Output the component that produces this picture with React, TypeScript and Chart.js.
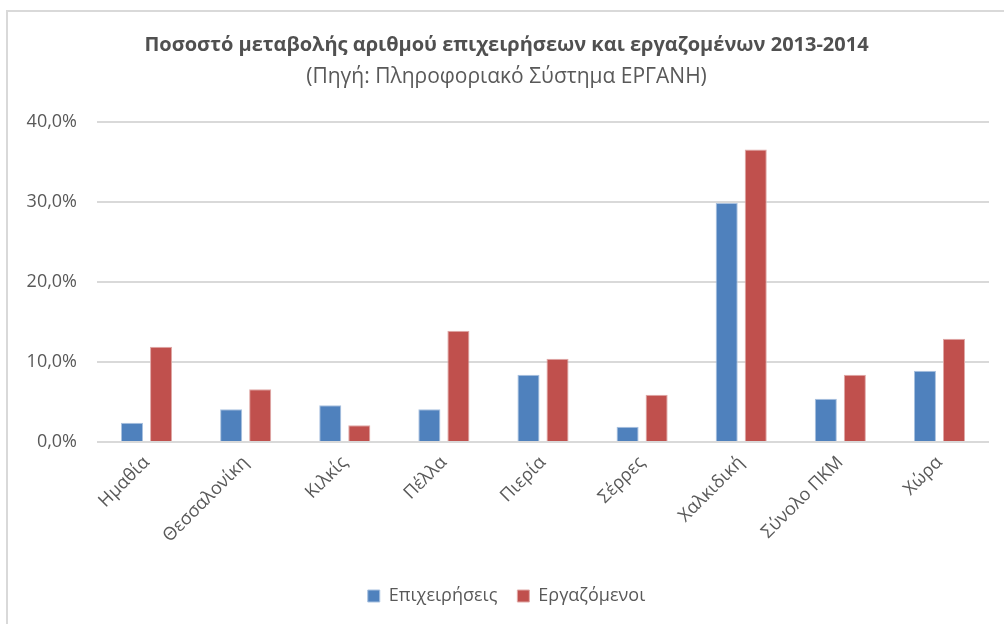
import React, { useEffect, useRef } from "react";
import { Chart, registerables } from "chart.js";

Chart.register(...registerables);

const categories = ["Ημαθία", "Θεσσαλονίκη", "Κιλκίς", "Πέλλα", "Πιερία", "Σέρρες", "Χαλκιδική", "Σύνολο ΠΚΜ", "Χώρα"];
const businesses = [2.4, 4.1, 4.6, 4.1, 8.4, 1.9, 29.9, 5.4, 8.9];
const employees = [11.9, 6.6, 2.1, 13.9, 10.4, 5.9, 36.6, 8.4, 12.9];
const yTicks = [0, 10, 20, 30, 40];
const titleText = "Ποσοστό μεταβολής αριθμού επιχειρήσεων και εργαζομένων 2013-2014";
const subtitleText = "(Πηγή: Πληροφοριακό Σύστημα ΕΡΓΑΝΗ)";
const seriesNames = ["Επιχειρήσεις", "Εργαζόμενοι"];

const FONT = "'Open Sans', 'Noto Sans', sans-serif";
const GRAY = "#595959";

const framePlugin = {
  id: "frame",
  beforeDraw(chart: any) {
    const ctx = chart.ctx;
    ctx.save();
    ctx.fillStyle = "#ffffff";
    ctx.fillRect(0, 0, chart.width, chart.height);
    ctx.strokeStyle = "#d9d9d9";
    ctx.lineWidth = 2;
    ctx.beginPath();
    ctx.moveTo(7, chart.height);
    ctx.lineTo(7, 11);
    ctx.lineTo(chart.width, 11);
    ctx.stroke();
    ctx.restore();
  },
};

export default function App() {
  const ref = useRef<HTMLCanvasElement>(null);
  useEffect(() => {
    if (!ref.current) return;
    const chart = new Chart(ref.current, {
      type: "bar",
      data: {
        labels: categories,
        datasets: [
          {
            label: seriesNames[0],
            data: businesses,
            backgroundColor: "#4F81BD",
            borderColor: "#a9c1df",
            borderWidth: 1,
            categoryPercentage: 0.586,
            barPercentage: 0.76,
          },
          {
            label: seriesNames[1],
            data: employees,
            backgroundColor: "#C0504D",
            borderColor: "#dfa8a6",
            borderWidth: 1,
            categoryPercentage: 0.586,
            barPercentage: 0.76,
          },
        ],
      },
      options: {
        responsive: false,
        animation: false,
        layout: { padding: { left: 24, right: 15, top: 0, bottom: 9 } },
        plugins: {
          title: {
            display: true,
            text: titleText,
            color: "#505050",
            font: { family: FONT, size: 20, weight: "bold" },
            padding: { top: 33, bottom: 7 },
          },
          subtitle: {
            display: true,
            text: subtitleText,
            color: GRAY,
            font: { family: FONT, size: 21 },
            padding: { top: 0, bottom: 33 },
          },
          legend: {
            position: "bottom",
            labels: {
              color: GRAY,
              font: { family: FONT, size: 18 },
              boxWidth: 12,
              boxHeight: 12,
              padding: 20,
            },
          },
          tooltip: { enabled: false },
        },
        scales: {
          x: {
            grid: { display: false },
            border: { display: false },
            ticks: {
              color: GRAY,
              font: { family: FONT, size: 18 },
              maxRotation: 45,
              minRotation: 45,
              padding: 2,
            },
            afterFit(scale: any) {
              scale.height = 125;
            },
          },
          y: {
            min: 0,
            max: 40,
            grid: { color: "#d9d9d9", lineWidth: 2, drawTicks: false },
            border: { display: false },
            afterBuildTicks(scale: any) {
              scale.ticks = yTicks.map((v) => ({ value: v }));
            },
            ticks: {
              color: GRAY,
              font: { family: FONT, size: 18 },
              padding: 20,
              callback: (v: any) => Number(v).toFixed(1).replace(".", ",") + "%",
            },
            afterFit(scale: any) {
              scale.width = 73;
            },
          },
        },
      },
      plugins: [framePlugin],
    } as any);
    return () => chart.destroy();
  }, []);
  return (
    <div style={{ position: "absolute", left: 0, top: 0, width: 1004, height: 624 }}>
      <canvas ref={ref} width={1004} height={624} />
    </div>
  );
}
